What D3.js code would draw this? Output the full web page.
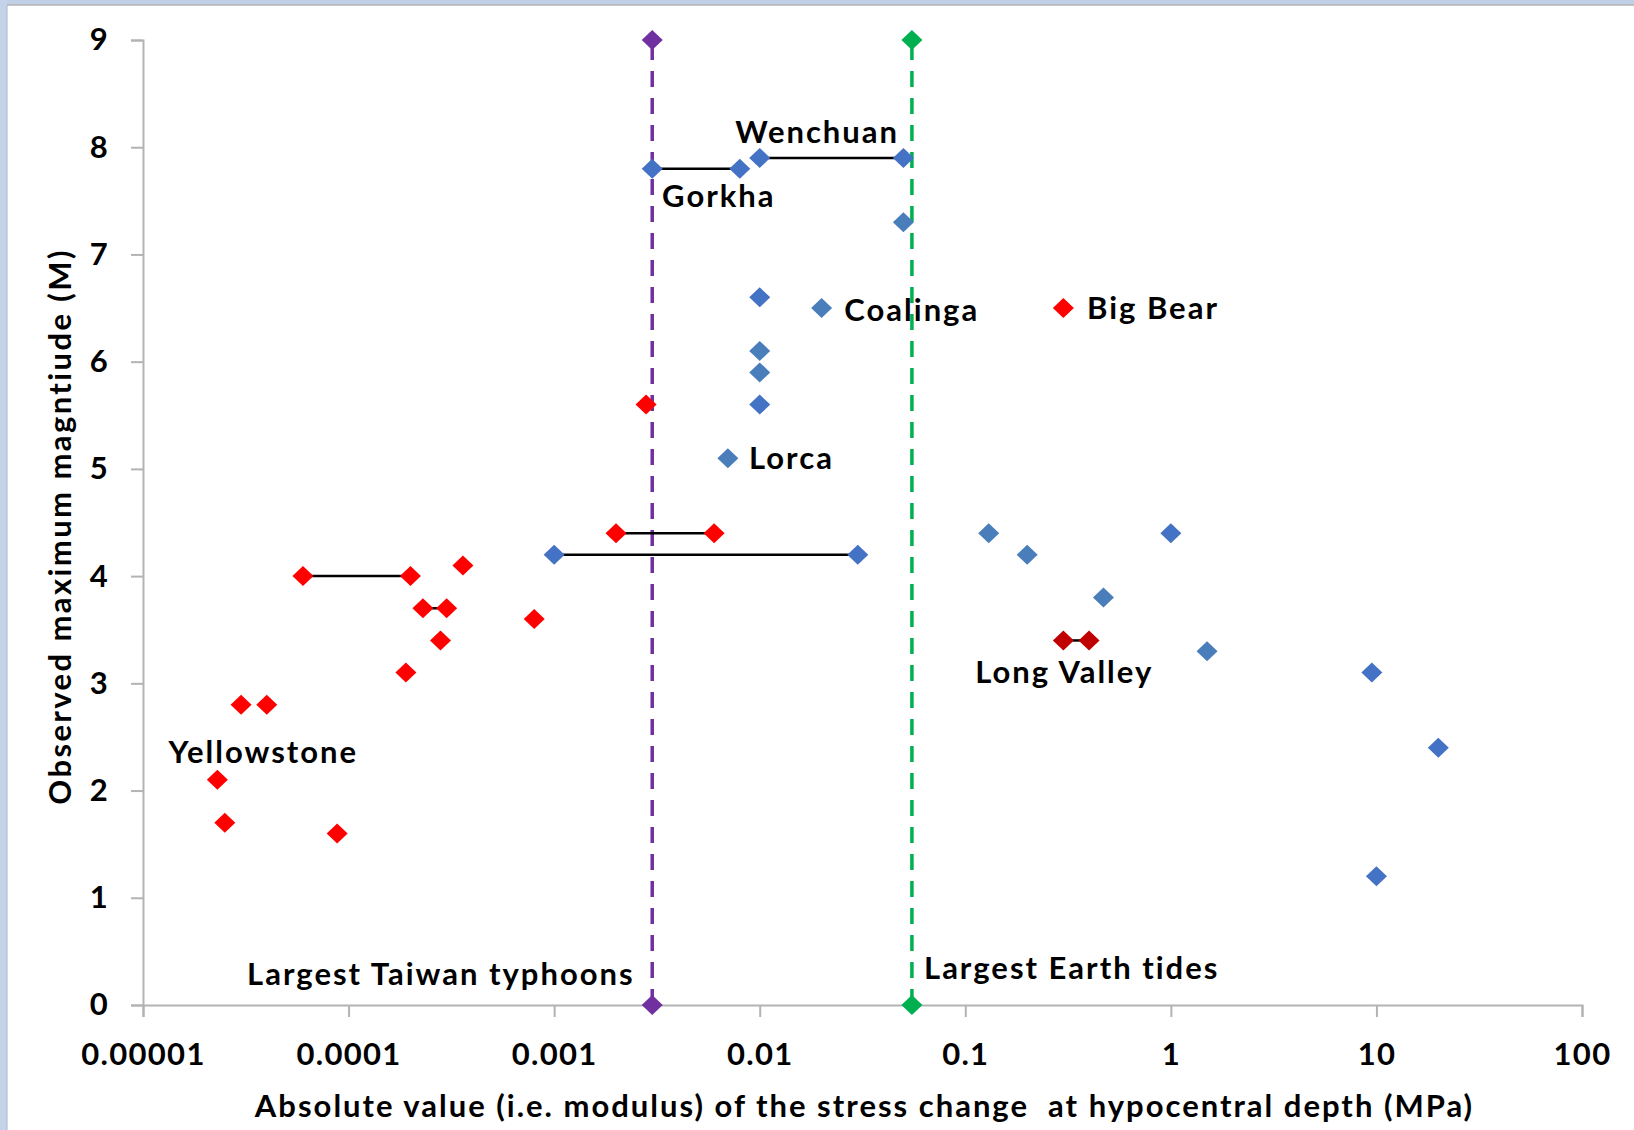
<!DOCTYPE html>
<html>
<head>
<meta charset="utf-8">
<script src="https://cdn.jsdelivr.net/npm/d3@7"></script>
<style>
  html, body { margin: 0; padding: 0; background: #fff; }
  svg { display: block; }
  text { font-family: Lato, "Open Sans", sans-serif; font-weight: 700; fill: #000; white-space: pre; }
</style>
</head>
<body>
<svg id="chart" width="1634" height="1130"></svg>
<script>
// ---------- data ----------
const xTickValues = [0.00001, 0.0001, 0.001, 0.01, 0.1, 1, 10, 100];
const xTickLabels = ["0.00001", "0.0001", "0.001", "0.01", "0.1", "1", "10", "100"];
const yTickValues = [0, 1, 2, 3, 4, 5, 6, 7, 8, 9];

// blue points (stress, magnitude)
const blueX = [0.003, 0.008, 0.01, 0.05, 0.01, 0.01, 0.001, 0.03, 1.0, 9.5, 20, 10];
const blueY = [7.8, 7.8, 7.9, 7.9, 6.6, 5.6, 4.2, 4.2, 4.4, 3.1, 2.4, 1.2];
// steel-blue points
const steelX = [0.05, 0.02, 0.01, 0.01, 0.007, 0.13, 0.2, 0.47, 1.5];
const steelY = [7.3, 6.5, 6.1, 5.9, 5.1, 4.4, 4.2, 3.8, 3.3];
// red points
const redX = [0.0028, 0.002, 0.006, 0.00006, 0.0002, 0.00036, 0.00023, 0.0003, 0.00028, 0.0008, 0.00019, 0.00003, 0.00004, 0.000023, 0.000025, 0.000088, 0.3];
const redY = [5.6, 4.4, 4.4, 4.0, 4.0, 4.1, 3.7, 3.7, 3.4, 3.6, 3.1, 2.8, 2.8, 2.1, 1.7, 1.6, 6.5];
// dark red points (Long Valley)
const darkRedX = [0.3, 0.4];
const darkRedY = [3.4, 3.4];

// range bars joining two estimates of one event
const rangeFromX = [0.003, 0.01, 0.001, 0.002, 0.00006, 0.00023, 0.3];
const rangeToX   = [0.008, 0.05, 0.03, 0.006, 0.0002, 0.0003, 0.4];
const rangeY     = [7.8, 7.9, 4.2, 4.4, 4.0, 3.7, 3.4];

// reference levels
const refNames = ["Largest Taiwan typhoons", "Largest Earth tides"];
const refX = [0.003, 0.055];
const refYMin = 0, refYMax = 9;

// annotation labels (anchored at data coordinates: left edge / baseline)
const labelText = ["Wenchuan", "Gorkha", "Coalinga", "Big Bear", "Lorca", "Long Valley", "Yellowstone", "Largest Taiwan typhoons", "Largest Earth tides"];
const labelX = [0.0076, 0.00335, 0.0258, 0.391, 0.00887, 0.1117, 0.0000133, 0.0000321, 0.063];
const labelY = [8.04, 7.44, 6.38, 6.40, 5.00, 3.0, 2.254, 0.19, 0.24];

const xTitle = "Absolute value (i.e. modulus) of the stress change  at hypocentral depth (MPa)";
const yTitle = "Observed maximum magntiude (M)";

// ---------- layout ----------
const W = 1634, H = 1130;
const margin = { left: 143, right: 52, top: 40, bottom: 125 };
const svg = d3.select("#chart");

// window frame
svg.append("rect").attr("x", 0).attr("y", 0).attr("width", W).attr("height", 5).attr("fill", "#bfd0e7");
svg.append("rect").attr("x", 0).attr("y", 0).attr("width", 7).attr("height", H).attr("fill", "#c3d3ea");
svg.append("line").attr("x1", 7).attr("x2", W).attr("y1", 5).attr("y2", 5).attr("stroke", "#b5b5b5").attr("stroke-width", 1.5);
svg.append("line").attr("x1", 7).attr("x2", 7).attr("y1", 5).attr("y2", H).attr("stroke", "#a9b8cc").attr("stroke-width", 1);

const x = d3.scaleLog().domain([0.00001, 100]).range([margin.left, W - margin.right]);
const y = d3.scaleLinear().domain([0, 9]).range([H - margin.bottom, margin.top]);

// axes
const axisColor = "#b3b3b3";
const gx = svg.append("g").attr("transform", `translate(0,${y(0)})`)
  .call(d3.axisBottom(x).tickValues(xTickValues).tickFormat((d, i) => xTickLabels[i]).tickSize(12).tickPadding(26));
const gy = svg.append("g").attr("transform", `translate(${x(0.00001)},0)`)
  .call(d3.axisLeft(y).tickValues(yTickValues).tickFormat(d3.format("d")).tickSize(12).tickPadding(22));
[gx, gy].forEach(g => {
  g.select(".domain").attr("stroke", axisColor).attr("stroke-width", 2);
  g.selectAll(".tick line").attr("stroke", axisColor).attr("stroke-width", 2);
  g.selectAll(".tick text").attr("font-size", 31).attr("font-family", "Lato").attr("font-weight", 700)
    .attr("fill", "#000").attr("letter-spacing", "1.3px");
});
gx.selectAll(".tick text").attr("dy", "0.72em");

// axis titles
svg.append("text").attr("x", (x(0.00001) + x(100)) / 2 + 2).attr("y", 1117)
  .attr("text-anchor", "middle").attr("font-size", 31).attr("letter-spacing", "2px").text(xTitle);
svg.append("text").attr("transform", `translate(71,${(y(0) + y(9)) / 2 + 4}) rotate(-90)`)
  .attr("text-anchor", "middle").attr("font-size", 31).attr("letter-spacing", "2.4px").text(yTitle);

// reference dashed lines
const refColors = ["#7030a0", "#00b050"];
refX.forEach((v, i) => {
  svg.append("line").attr("x1", x(v)).attr("x2", x(v)).attr("y1", y(refYMin)).attr("y2", y(refYMax))
    .attr("stroke", refColors[i]).attr("stroke-width", 3.5).attr("stroke-dasharray", "16,11");
});

// range bars
svg.append("g").selectAll("line").data(rangeY).join("line")
  .attr("x1", (d, i) => x(rangeFromX[i])).attr("x2", (d, i) => x(rangeToX[i]))
  .attr("y1", d => y(d)).attr("y2", d => y(d))
  .attr("stroke", "#000").attr("stroke-width", 2.5);

// diamond markers
const diamond = (cx, cy) => `M${cx},${cy - 10}L${cx + 10.5},${cy}L${cx},${cy + 10}L${cx - 10.5},${cy}Z`;
function drawPoints(xs, ys, color) {
  svg.append("g").selectAll("path").data(xs).join("path")
    .attr("d", (d, i) => diamond(x(d), y(ys[i])))
    .attr("fill", color);
}
drawPoints(steelX, steelY, "#4a7ebb");
drawPoints(blueX, blueY, "#4472c4");
drawPoints(redX, redY, "#ff0000");
drawPoints(darkRedX, darkRedY, "#c00000");
refX.forEach((v, i) => drawPoints([v, v], [refYMin, refYMax], refColors[i]));

// annotation labels
svg.append("g").selectAll("text").data(labelText).join("text")
  .attr("x", (d, i) => x(labelX[i])).attr("y", (d, i) => y(labelY[i]))
  .attr("font-size", 31).attr("letter-spacing", "2px").text(d => d);
</script>
</body>
</html>
